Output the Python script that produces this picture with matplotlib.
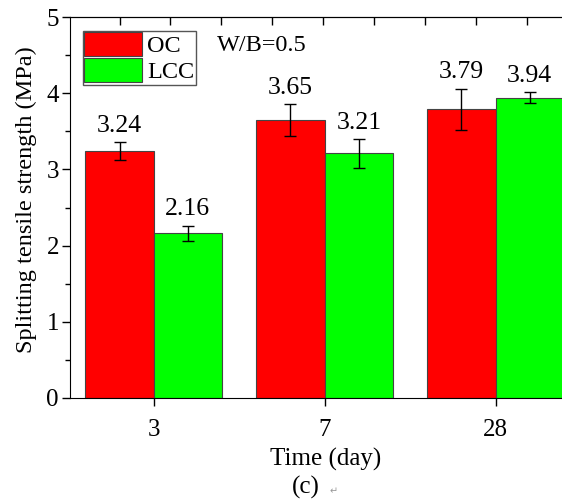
import numpy as np
import matplotlib.pyplot as plt
from matplotlib.ticker import MultipleLocator

plt.rcParams['font.family'] = ['Liberation Serif', 'DejaVu Sans']
plt.rcParams['font.size'] = 18

days = ['3', '7', '28']
oc = [3.24, 3.65, 3.79]
oc_err = [0.12, 0.21, 0.27]
lcc = [2.16, 3.21, 3.94]
lcc_err = [0.10, 0.19, 0.07]

fig = plt.figure(figsize=(5.62, 4.99), dpi=100)
ax = fig.add_axes([70 / 562, 101 / 499, 511 / 562, 381 / 499])

x = np.arange(len(days))
w = 0.4
ekw = dict(elinewidth=1, capthick=1, ecolor='black')
ax.bar(x - w / 2, oc, w, yerr=oc_err, capsize=4, color='#ff0000',
       edgecolor='#444444', linewidth=0.8, error_kw=ekw, label='OC')
ax.bar(x + w / 2, lcc, w, yerr=lcc_err, capsize=4, color='#00ff00',
       edgecolor='#444444', linewidth=0.8, error_kw=ekw, label='LCC')

for xi, v, e in zip(x - w / 2, oc, oc_err):
    ax.text(xi, v + e + 0.07, f'{v:.2f}', ha='center', va='bottom', fontsize=18.5)
for xi, v, e in zip(x + w / 2, lcc, lcc_err):
    ax.text(xi, v + e + 0.07, f'{v:.2f}', ha='center', va='bottom', fontsize=18.5)

ax.set_xlim(-0.49, 2.5)
ax.set_ylim(0, 5)
ax.set_xticks(x)
ax.set_xticklabels(days)
ax.yaxis.set_major_locator(MultipleLocator(1))
ax.yaxis.set_minor_locator(MultipleLocator(0.5))
ax.tick_params(axis='x', which='major', direction='out', length=6, width=1, pad=9)
ax.tick_params(axis='y', which='major', direction='out', length=6, width=1, pad=2)
ax.tick_params(axis='y', which='minor', direction='out', length=3.5, width=1)
ax.spines['right'].set_visible(False)

top = ax.secondary_xaxis('top')
top.set_xticks(np.arange(-0.2, 2.5, 0.298))
top.set_xticklabels([])
top.tick_params(direction='in', length=5.5, width=1)

ax.set_xlabel('Time (day)', labelpad=5)
ax.set_ylabel('Splitting tensile strength (MPa)', fontsize=17.5)
ax.yaxis.set_label_coords(-0.064, 0.52)

ax.legend(loc='upper left', bbox_to_anchor=(0.025, 0.963), borderaxespad=0,
          handlelength=2.4, handleheight=1.1, labelspacing=0.05,
          handletextpad=0.2, borderpad=0.05, fancybox=False,
          edgecolor='#555555', framealpha=1, fontsize=17.5)
ax.text(0.288, 0.926, 'W/B=0.5', transform=ax.transAxes, ha='left',
        va='center', fontsize=17.5)

fig.text(306 / 562, 0, '(c)', ha='center', va='bottom', fontsize=18)
fig.text(334 / 562, 3 / 499, '\u21b5', ha='center', va='bottom',
         fontsize=7, color='#999999')

fig.savefig('out.png', dpi=100)
